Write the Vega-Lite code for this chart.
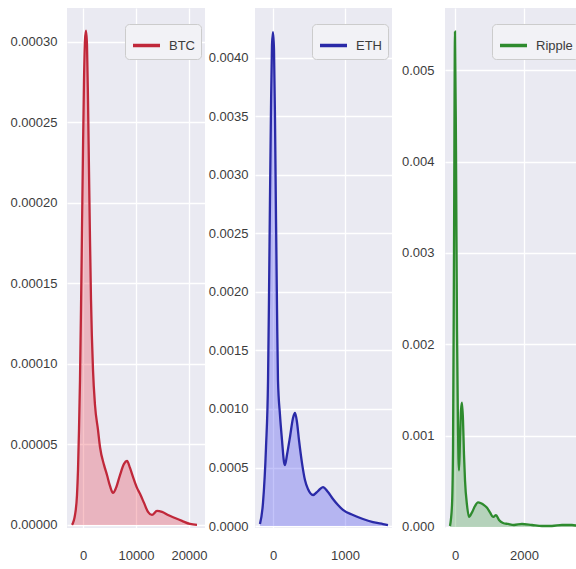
{
  "$schema": "https://vega.github.io/schema/vega-lite/v6.json",
  "padding": {"left": 10, "top": 8, "right": 0, "bottom": 0},
  "background": "white",
  "spacing": 8,
  "data": {"values": [
    {"coin": "BTC", "x": -2076, "d": 0},
    {"coin": "BTC", "x": -1510, "d": 0.0000062},
    {"coin": "BTC", "x": -1132, "d": 0.0000186},
    {"coin": "BTC", "x": -943, "d": 0.0000342},
    {"coin": "BTC", "x": -755, "d": 0.000059},
    {"coin": "BTC", "x": -566, "d": 0.00009},
    {"coin": "BTC", "x": -377, "d": 0.000134},
    {"coin": "BTC", "x": -189, "d": 0.000183},
    {"coin": "BTC", "x": 0, "d": 0.000233},
    {"coin": "BTC", "x": 189, "d": 0.000276},
    {"coin": "BTC", "x": 377, "d": 0.000301},
    {"coin": "BTC", "x": 566, "d": 0.000307},
    {"coin": "BTC", "x": 755, "d": 0.000298},
    {"coin": "BTC", "x": 943, "d": 0.000264},
    {"coin": "BTC", "x": 1132, "d": 0.00022},
    {"coin": "BTC", "x": 1321, "d": 0.000177},
    {"coin": "BTC", "x": 1510, "d": 0.00014},
    {"coin": "BTC", "x": 1887, "d": 0.0000963},
    {"coin": "BTC", "x": 2264, "d": 0.0000745},
    {"coin": "BTC", "x": 2830, "d": 0.000059},
    {"coin": "BTC", "x": 3208, "d": 0.0000484},
    {"coin": "BTC", "x": 3962, "d": 0.0000373},
    {"coin": "BTC", "x": 4529, "d": 0.000031},
    {"coin": "BTC", "x": 5095, "d": 0.0000242},
    {"coin": "BTC", "x": 5661, "d": 0.0000199},
    {"coin": "BTC", "x": 6227, "d": 0.000023},
    {"coin": "BTC", "x": 6982, "d": 0.000031},
    {"coin": "BTC", "x": 7737, "d": 0.0000379},
    {"coin": "BTC", "x": 8303, "d": 0.0000397},
    {"coin": "BTC", "x": 8869, "d": 0.0000354},
    {"coin": "BTC", "x": 9435, "d": 0.0000298},
    {"coin": "BTC", "x": 10190, "d": 0.000023},
    {"coin": "BTC", "x": 10756, "d": 0.0000193},
    {"coin": "BTC", "x": 11511, "d": 0.0000137},
    {"coin": "BTC", "x": 12266, "d": 0.0000081},
    {"coin": "BTC", "x": 13020, "d": 0.0000062},
    {"coin": "BTC", "x": 13964, "d": 0.0000087},
    {"coin": "BTC", "x": 14907, "d": 0.0000081},
    {"coin": "BTC", "x": 16040, "d": 0.0000062},
    {"coin": "BTC", "x": 17360, "d": 0.0000043},
    {"coin": "BTC", "x": 18680, "d": 0.0000025},
    {"coin": "BTC", "x": 20190, "d": 0.0000006},
    {"coin": "BTC", "x": 21512, "d": 0},
    {"coin": "ETH", "x": -181, "d": 0.000017},
    {"coin": "ETH", "x": -139, "d": 0.000197},
    {"coin": "ETH", "x": -97, "d": 0.000675},
    {"coin": "ETH", "x": -69, "d": 0.00125},
    {"coin": "ETH", "x": -56, "d": 0.00193},
    {"coin": "ETH", "x": -42, "d": 0.00279},
    {"coin": "ETH", "x": -28, "d": 0.00356},
    {"coin": "ETH", "x": -14, "d": 0.00411},
    {"coin": "ETH", "x": 0, "d": 0.00422},
    {"coin": "ETH", "x": 14, "d": 0.00407},
    {"coin": "ETH", "x": 28, "d": 0.00347},
    {"coin": "ETH", "x": 42, "d": 0.00262},
    {"coin": "ETH", "x": 56, "d": 0.00185},
    {"coin": "ETH", "x": 69, "d": 0.00125},
    {"coin": "ETH", "x": 97, "d": 0.00095},
    {"coin": "ETH", "x": 125, "d": 0.000735},
    {"coin": "ETH", "x": 153, "d": 0.000547},
    {"coin": "ETH", "x": 167, "d": 0.000521},
    {"coin": "ETH", "x": 194, "d": 0.000607},
    {"coin": "ETH", "x": 236, "d": 0.000761},
    {"coin": "ETH", "x": 278, "d": 0.000923},
    {"coin": "ETH", "x": 306, "d": 0.000966},
    {"coin": "ETH", "x": 333, "d": 0.000889},
    {"coin": "ETH", "x": 361, "d": 0.000735},
    {"coin": "ETH", "x": 403, "d": 0.000538},
    {"coin": "ETH", "x": 444, "d": 0.000393},
    {"coin": "ETH", "x": 486, "d": 0.000316},
    {"coin": "ETH", "x": 556, "d": 0.000265},
    {"coin": "ETH", "x": 625, "d": 0.000299},
    {"coin": "ETH", "x": 694, "d": 0.000333},
    {"coin": "ETH", "x": 764, "d": 0.000291},
    {"coin": "ETH", "x": 833, "d": 0.000231},
    {"coin": "ETH", "x": 903, "d": 0.000179},
    {"coin": "ETH", "x": 972, "d": 0.000137},
    {"coin": "ETH", "x": 1111, "d": 0.000094},
    {"coin": "ETH", "x": 1250, "d": 0.00006},
    {"coin": "ETH", "x": 1389, "d": 0.000034},
    {"coin": "ETH", "x": 1528, "d": 0.000017},
    {"coin": "ETH", "x": 1597, "d": 0.0000085},
    {"coin": "Ripple", "x": -145, "d": 0.000011},
    {"coin": "Ripple", "x": -87, "d": 0.00024},
    {"coin": "Ripple", "x": -58, "d": 0.00084},
    {"coin": "Ripple", "x": -29, "d": 0.00303},
    {"coin": "Ripple", "x": 0, "d": 0.00542},
    {"coin": "Ripple", "x": 29, "d": 0.00412},
    {"coin": "Ripple", "x": 58, "d": 0.00216},
    {"coin": "Ripple", "x": 87, "d": 0.00106},
    {"coin": "Ripple", "x": 116, "d": 0.00062},
    {"coin": "Ripple", "x": 145, "d": 0.00095},
    {"coin": "Ripple", "x": 174, "d": 0.00128},
    {"coin": "Ripple", "x": 203, "d": 0.00136},
    {"coin": "Ripple", "x": 232, "d": 0.00117},
    {"coin": "Ripple", "x": 261, "d": 0.00079},
    {"coin": "Ripple", "x": 290, "d": 0.00051},
    {"coin": "Ripple", "x": 348, "d": 0.00024},
    {"coin": "Ripple", "x": 406, "d": 0.00011},
    {"coin": "Ripple", "x": 493, "d": 0.00016},
    {"coin": "Ripple", "x": 580, "d": 0.00023},
    {"coin": "Ripple", "x": 667, "d": 0.00027},
    {"coin": "Ripple", "x": 754, "d": 0.00026},
    {"coin": "Ripple", "x": 841, "d": 0.00024},
    {"coin": "Ripple", "x": 928, "d": 0.00021},
    {"coin": "Ripple", "x": 1015, "d": 0.00016},
    {"coin": "Ripple", "x": 1101, "d": 0.00011},
    {"coin": "Ripple", "x": 1189, "d": 0.00013},
    {"coin": "Ripple", "x": 1276, "d": 0.000077},
    {"coin": "Ripple", "x": 1392, "d": 0.000044},
    {"coin": "Ripple", "x": 1537, "d": 0.000033},
    {"coin": "Ripple", "x": 1710, "d": 0.000022},
    {"coin": "Ripple", "x": 1942, "d": 0.000033},
    {"coin": "Ripple", "x": 2232, "d": 0.000022},
    {"coin": "Ripple", "x": 2522, "d": 0.000011},
    {"coin": "Ripple", "x": 2812, "d": 0.000011},
    {"coin": "Ripple", "x": 3102, "d": 0.000022},
    {"coin": "Ripple", "x": 3392, "d": 0.000022},
    {"coin": "Ripple", "x": 3566, "d": 0.000011}
  ]},
  "resolve": {"scale": {"color": "independent", "x": "independent", "y": "independent"}, "legend": {"color": "independent"}},
  "config": {
    "view": {"fill": "#EAEAF2", "stroke": null},
    "axis": {"domain": false, "ticks": false, "gridColor": "#FFFFFF", "gridWidth": 1.3, "labelFont": "Liberation Sans, Arial, sans-serif", "labelFontSize": 13, "labelColor": "#3c3c3c", "title": null},
    "axisY": {"labelPadding": 10},
    "axisX": {"labelPadding": 21},
    "legend": {"fillColor": "#F2F2F6", "strokeColor": "#CCCCCC", "cornerRadius": 4, "padding": 6, "symbolType": "stroke", "symbolSize": 729, "symbolStrokeWidth": 3.5, "labelFontSize": 13, "labelFont": "Liberation Sans, Arial, sans-serif", "labelColor": "#3c3c3c", "labelOffset": 7, "title": null, "orient": "none"}
  },
  "hconcat": [
    {
      "spacing": 0,
      "resolve": {"scale": {"color": "independent", "x": "independent", "y": "independent"}, "legend": {"color": "independent"}},
      "hconcat": [
        {
          "width": 138, "height": 520,
          "transform": [{"filter": "datum.coin === 'BTC'"}],
          "encoding": {
            "x": {"field": "x", "type": "quantitative", "scale": {"domain": [-3019, 23021], "nice": false, "zero": false}, "axis": {"values": [0, 10000, 20000], "format": "d"}},
            "y": {"field": "d", "type": "quantitative", "scale": {"domain": [-0.0000019, 0.000321], "nice": false, "zero": false}, "axis": {"values": [0, 0.00005, 0.0001, 0.00015, 0.0002, 0.00025, 0.0003], "format": ".5f"}}
          },
          "layer": [
            {"mark": {"type": "area", "color": "#e8384a", "opacity": 0.3, "interpolate": "monotone"}, "encoding": {"y2": {"datum": 0}}},
            {"mark": {"type": "line", "strokeWidth": 2.3, "interpolate": "monotone"}, "encoding": {"color": {"field": "coin", "type": "nominal", "scale": {"range": ["#c0283a"]}, "legend": {"legendX": 58, "legendY": 16}}}}
          ]
        },
        {
          "width": 137, "height": 520,
          "transform": [{"filter": "datum.coin === 'ETH'"}],
          "encoding": {
            "x": {"field": "x", "type": "quantitative", "scale": {"domain": [-250, 1653], "nice": false, "zero": false}, "axis": {"values": [0, 1000], "format": "d"}},
            "y": {"field": "d", "type": "quantitative", "scale": {"domain": [-0.000017, 0.004427], "nice": false, "zero": false}, "axis": {"values": [0, 0.0005, 0.001, 0.0015, 0.002, 0.0025, 0.003, 0.0035, 0.004], "format": ".4f", "labelPadding": 7}}
          },
          "layer": [
            {"mark": {"type": "area", "color": "#3a3af0", "opacity": 0.3, "interpolate": "monotone"}, "encoding": {"y2": {"datum": 0}}},
            {"mark": {"type": "line", "strokeWidth": 2.3, "interpolate": "monotone"}, "encoding": {"color": {"field": "coin", "type": "nominal", "scale": {"range": ["#2a2aa8"]}, "legend": {"legendX": 57, "legendY": 16}}}}
          ]
        }
      ]
    },
    {
      "width": 133, "height": 520,
      "transform": [{"filter": "datum.coin === 'Ripple'"}],
      "encoding": {
        "x": {"field": "x", "type": "quantitative", "scale": {"domain": [-290, 3566], "nice": false, "zero": false}, "axis": {"values": [0, 2000], "format": "d"}},
        "y": {"field": "d", "type": "quantitative", "scale": {"domain": [-0.000011, 0.00568], "nice": false, "zero": false}, "axis": {"values": [0, 0.001, 0.002, 0.003, 0.004, 0.005], "format": ".3f", "labelPadding": 11}}
      },
      "layer": [
        {"mark": {"type": "area", "color": "#3a9a3a", "opacity": 0.3, "interpolate": "monotone"}, "encoding": {"y2": {"datum": 0}}},
        {"mark": {"type": "line", "strokeWidth": 2.3, "interpolate": "monotone"}, "encoding": {"color": {"field": "coin", "type": "nominal", "scale": {"range": ["#2e8b2e"]}, "legend": {"legendX": 47, "legendY": 16}}}}
      ]
    }
  ]
}
